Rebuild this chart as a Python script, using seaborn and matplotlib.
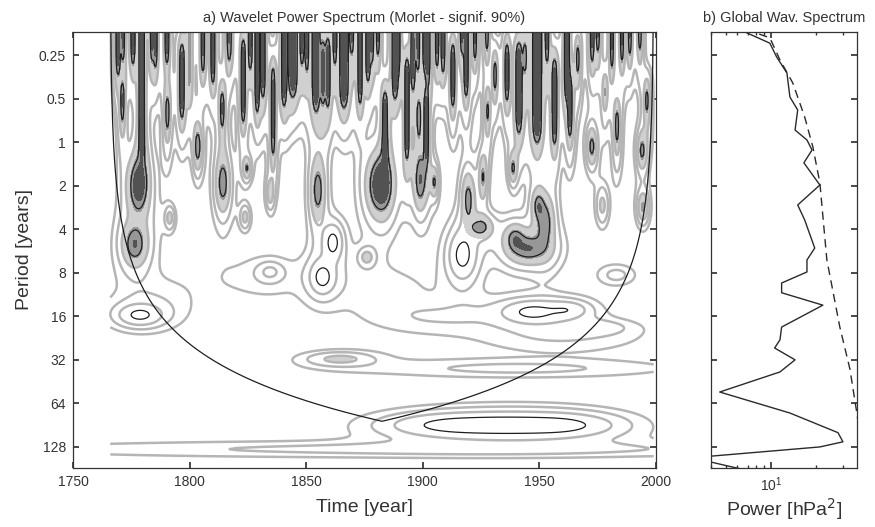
import numpy as np
import pandas as pd
import matplotlib
matplotlib.use("Agg")
import matplotlib.pyplot as plt
import seaborn as sns
from matplotlib.ticker import FixedLocator, FixedFormatter, LogLocator, NullFormatter, NullLocator

# ------------------------------------------------------------------ data
period_ticks = [0.25, 0.5, 1, 2, 4, 8, 16, 32, 64, 128]
period_tick_labels = ["0.25", "0.5", "1", "2", "4", "8", "16", "32", "64", "128"]
year_ticks = [1750, 1800, 1850, 1900, 1950, 2000]
data_start, data_end = 1766.0, 1999.0

# global wavelet spectrum (period [yr], power [hPa^2])
gws_period = [0.16, 0.173, 0.207, 0.259, 0.333, 0.488, 0.600, 0.825, 0.967, 1.134, 1.39, 1.98,
              2.72, 3.45, 5.4, 6.53, 7.9, 9.42, 11.0, 13.4, 19.0, 23.3, 26.5, 32.0, 38.8, 53.4,
              74.6, 102.0, 118.0, 128.0, 152.0, 187.0]
gws_power = [6.0, 6.7, 9.85, 10.96, 12.8, 13.4, 15.1, 14.5, 17.4, 18.8, 16.6, 21.2,
             15.1, 16.8, 19.6, 17.4, 17.4, 11.8, 11.8, 22.2, 11.8, 11.5, 10.6, 14.5, 11.5, 4.57,
             13.4, 28.0, 30.2, 21.2, 3.0, 7.1]
# 90% significance level
sig_period = [0.16, 0.173, 0.19, 0.27, 0.39, 0.67, 1.08, 1.91, 6.5, 19.0, 37.0, 75.0, 180.0]
sig_power = [7.0, 7.6, 9.85, 11.5, 14.0, 16.8, 19.05, 21.2, 23.6, 28.8, 33.6, 37.4, 42.0]

# high-frequency bursts (vertical streaks): year, strength, top/bottom log2(period), width [yr]
streak_year = [1769.3, 1771.4, 1771.2, 1775.7, 1779.5, 1783.9, 1785.4, 1790.3, 1790.5, 1796.7,
               1800.0, 1805.7, 1810.0, 1814.0, 1817.0, 1823.0, 1826.0, 1829.0, 1831.5, 1835.8,
               1840.5, 1844.3, 1848.2, 1850.3, 1854.2, 1857.2, 1859.3, 1862.3, 1866.2, 1869.6,
               1873.1, 1876.5, 1878.2, 1880.8, 1883.8, 1888.1, 1889.4, 1893.2, 1895.8, 1897.9,
               1898.3, 1900.9, 1901.5, 1902.2, 1906.1, 1908.7, 1912.9, 1916.8, 1918.6, 1922.4,
               1927.5, 1927.8, 1931.0, 1936.1, 1941.2, 1943.8, 1949.0, 1953.3, 1956.5, 1961.8,
               1963.1, 1966.5, 1972.6, 1975.1, 1978.1, 1981.1, 1983.3, 1985.4, 1988.8, 1993.1,
               1996.1]
streak_amp = [7, 6, 6, 7, 7.5, 6, 6, 7, 6, 7,
              3.5, 6, 7, 6.5, 6, 7, 6, 7, 7, 6,
              7, 9, 6, 6, 8, 7, 7, 6, 9, 6,
              7, 7, 6, 6, 7, 8, 6, 7, 6, 6,
              5.5, 6, 7, 6, 6, 6, 7, 6, 7, 6,
              6, 5.5, 6, 7, 8, 6, 9, 6, 7, 8,
              6.5, 6, 6, 6, 5.5, 6, 6, 6, 6, 6,
              6]
streak_top = [-3, -3, -1.3, -3, -3, -3, -3, -3, -1.0, -2.2,
              -3, -3, -3, -1.1, -3, -2.3, -3, -3, -3, -1.7,
              -3, -3, -3, -3, -3, -2.2, -2.3, -3, -3, -3,
              -3, -3, -3, -3, -1.1, -3, -3, -1.85, -3, -3,
              -0.9, -3, -1.1, -3, -3, -3, -2.2, -3, -3, -3,
              -3, -0.94, -1.85, -2.2, -2.2, -2.2, -3, -3, -1.85, -3,
              -1.4, -2.2, -3, -3, -1.3, -3, -0.7, -3, -3, -3,
              -1.2]
streak_bottom = [-1.62, -1.93, -0.5, -1.85, 0.3, -1.93, -1.75, -1.85, -0.3, -0.6,
                 -1.0, -1.6, -1.4, -0.4, -1.85, -0.5, -1.7, -0.75, -1.1, 0.3,
                 -0.9, -1.15, -1.85, -1.7, -0.8, -1.0, -0.9, -1.85, -0.9, -2.1,
                 -0.94, -1.47, -1.9, -2.0, 0.4, -1.1, -1.7, 0.3, -1.24, -1.7,
                 -0.2, -1.7, 0.4, -1.4, -1.75, -1.6, -0.86, -2.1, -1.1, -1.9,
                 -2.1, -0.45, -1.2, -1.0, -0.3, -1.7, -0.1, -1.9, 0.0, -1.1,
                 -0.17, -1.6, -1.85, -2.1, -1.0, -1.7, 0.0, -1.85, -2.0, -2.1,
                 -0.7]
streak_width = [0.8, 0.7, 0.7, 0.8, 1.0, 0.7, 0.7, 0.8, 0.8, 0.9,
                1.0, 0.8, 0.8, 0.8, 1.0, 0.8, 0.8, 0.8, 0.8, 0.8,
                0.9, 1.4, 0.7, 0.7, 1.3, 0.8, 0.8, 0.7, 1.4, 0.7,
                0.8, 0.8, 0.7, 0.7, 0.9, 1.0, 0.7, 0.8, 0.8, 0.7,
                0.8, 0.8, 0.8, 0.8, 0.7, 0.8, 0.8, 0.7, 0.8, 0.7,
                0.7, 0.7, 0.7, 0.8, 1.1, 0.7, 1.5, 0.7, 0.9, 0.9,
                0.8, 0.7, 0.8, 0.7, 0.7, 0.7, 0.8, 0.7, 0.7, 0.7,
                0.8]

# localized power features: year, log2(period), strength, time width, octave width, shaded?
blob_year = [1778.0, 1776.5, 1791.5, 1814.3, 1823.8, 1824.6, 1834.5, 1855.0, 1881.8, 1898.8,
             1905.0, 1925.8, 1938.7, 1919.5, 1925.0, 1945.5, 1952.5, 1949.5, 1994.4, 1977.0,
             1803.5, 1972.5, 1994.0, 1876.0, 1864.5, 1939.5,
             1861.5, 1857.0, 1917.0, 1778.7, 1834.5, 1947.0, 1962.0, 1983.0, 1975.0, 1940.0,
             1912.0, 1937.0, 1960.0, 1900.0, 1830.0, 1880.0, 1785.0, 1905.0, 1960.0]
blob_logp = [1.0, 2.35, 1.74, 0.95, 1.72, 0.6, 1.17, 1.1, 0.98, 0.9,
             0.92, 0.8, 0.6, 1.3, 1.95, 2.45, 1.85, 1.45, 1.49, 1.45,
             0.1, 0.1, 0.2, 2.64, 4.98, 2.2,
             2.3, 3.1, 2.6, 3.97, 2.98, 3.9, 3.85, 3.05, 4.25, 5.2,
             6.5, 6.5, 6.5, 7.05, 3.1, 3.3, 3.6, 4.0, 4.5]
blob_amp = [9.5, 7.5, 3.2, 7.0, 3.2, 5.5, 3.5, 7.0, 12.0, 7.0,
            5.5, 5.5, 5.5, 6.5, 6.0, 7.0, 6.5, 5.5, 5.5, 3.0,
            7.5, 6.5, 6.0, 3.0, 3.0, 5.5,
            7.0, 7.0, 7.0, 6.4, 2.5, 6.5, 4.0, 1.5, 1.4, 1.4,
            6.0, 6.5, 5.5, 1.5, 0.7, 0.8, 0.8, 1.1, 1.0]
blob_tw = [2.6, 3.0, 1.2, 1.8, 1.2, 1.0, 1.0, 1.8, 3.0, 1.6,
           0.9, 1.0, 1.0, 1.6, 2.8, 5.0, 2.2, 1.5, 1.3, 1.5,
           1.0, 1.2, 1.2, 2.0, 8.0, 2.5,
           2.2, 2.8, 3.2, 5.0, 3.0, 7.0, 5.0, 5.0, 9.0, 40.0,
           14.0, 14.0, 12.0, 110.0, 15.0, 15.0, 12.0, 18.0, 22.0]
blob_sw = [0.38, 0.28, 0.15, 0.38, 0.15, 0.15, 0.2, 0.42, 0.38, 0.38,
           0.2, 0.3, 0.2, 0.35, 0.15, 0.2, 0.35, 0.2, 0.2, 0.25,
           0.3, 0.25, 0.25, 0.12, 0.09, 0.18,
           0.22, 0.2, 0.3, 0.13, 0.12, 0.14, 0.11, 0.15, 0.11, 0.13,
           0.14, 0.14, 0.14, 0.12, 0.35, 0.35, 0.4, 0.25, 0.22]
blob_shaded = [1, 1, 1, 1, 1, 1, 1, 1, 1, 1,
               1, 1, 1, 1, 1, 1, 1, 1, 1, 1,
               1, 1, 1, 1, 1, 1,
               0, 0, 0, 0, 0, 0, 0, 0, 0, 0,
               0, 0, 0, 0, 0, 0, 0, 0, 0]

# ------------------------------------------------------------------ power field
t = np.arange(data_start, data_end + 1e-6, 0.2)
s = np.arange(-2.65, 7.6, 0.025)


def logistic(x):
    return 1.0 / (1.0 + np.exp(-x))


cores = np.zeros((s.size, t.size))
halos = np.zeros((s.size, t.size))
for yr, a, st, sb, w in zip(streak_year, streak_amp, streak_top, streak_bottom, streak_width):
    core = np.exp(-0.5 * ((t - yr) / (0.85 * w)) ** 2)
    halo = np.exp(-0.5 * ((t - yr) / (2.1 * w)) ** 2)
    vcore = logistic((s - st) / 0.12) * logistic((sb - s) / 0.15)
    vhalo = logistic((s - st + 0.4) / 0.15) * logistic((sb + 0.6 - s) / 0.3)
    cores += a * np.outer(vcore, core)
    halos += 0.45 * a * np.outer(vhalo, halo)
streak_field = cores + 3.3 * np.tanh(halos / 3.3)

z_all = streak_field.copy()
z_shade = streak_field.copy()
for yr, lp, a, tw, sw, sh in zip(blob_year, blob_logp, blob_amp, blob_tw, blob_sw, blob_shaded):
    ds = (s - lp) / sw
    dt = (t - yr) / tw
    comp = a * (0.74 * np.outer(np.exp(-0.5 * ds ** 2), np.exp(-0.5 * dt ** 2))
                + 0.26 * np.outer(np.exp(-0.5 * (ds / 2.0) ** 2), np.exp(-0.5 * (dt / 2.0) ** 2)))
    z_all += comp
    if sh:
        z_shade += comp

periods = 2.0 ** s
# cone of influence (Morlet: e-folding distance * fourier factor)
t_coi = t[1:-1]
coi = 1.033 / np.sqrt(2.0) * np.minimum(t_coi - data_start, data_end - t_coi)
coi_df = pd.DataFrame({"year": t_coi, "period": coi})

gws_df = pd.DataFrame({"power": gws_power, "period": gws_period})
sig_df = pd.DataFrame({"power": sig_power, "period": sig_period})

# ------------------------------------------------------------------ plotting
sns.set_theme(style="ticks", rc={
    "xtick.direction": "in", "ytick.direction": "in",
    "xtick.major.size": 4, "ytick.major.size": 4,
    "xtick.minor.size": 2.5, "ytick.minor.size": 2.5,
    "axes.edgecolor": "#333333", "axes.linewidth": 0.9,
    "xtick.color": "#333333", "ytick.color": "#333333",
    "text.color": "#333333", "axes.labelcolor": "#333333",
})
plt.rcParams["font.family"] = ["Liberation Sans", "DejaVu Sans"]

fig = plt.figure(figsize=(8.75, 5.27), dpi=100)
ax = fig.add_axes([0.0834, 0.1120, 0.6663, 0.8273])
ax2 = fig.add_axes([0.8126, 0.1120, 0.1669, 0.8273])

ylo, yhi = 0.1733, 178.9

ax.set_yscale("log", base=2)
ax.contourf(t, periods, z_shade, levels=[2.5, 5.0, 7.8, 1e4],
            colors=["#d0d0d0", "#979797", "#525252"])
ax.contour(t, periods, z_all, levels=[0.6, 1.2, 2.5], colors="#b5b5b5", linewidths=1.8)
ax.contour(t, periods, z_all, levels=[5.6], colors="#1e1e1e", linewidths=0.9)
sns.lineplot(data=coi_df, x="year", y="period", ax=ax, color="#1e1e1e", linewidth=0.9,
             sort=False, estimator=None)

ax.set_xlim(1750, 2000)
ax.set_ylim(yhi, ylo)
ax.yaxis.set_major_locator(FixedLocator(period_ticks))
ax.yaxis.set_major_formatter(FixedFormatter(period_tick_labels))
ax.yaxis.set_minor_locator(NullLocator())
ax.set_xticks(year_ticks)
ax.tick_params(axis="both", which="both", top=True, right=True, labelsize=10, pad=5)
ax.set_xlabel("Time [year]", fontsize=14, labelpad=7)
ax.set_ylabel("Period [years]", fontsize=14, labelpad=4)
ax.set_title("a) Wavelet Power Spectrum (Morlet - signif. 90%)", fontsize=10.5, pad=7)

# right panel: global wavelet spectrum
sns.lineplot(data=gws_df, x="power", y="period", ax=ax2, color="#2a2a2a", linewidth=1.0,
             sort=False, estimator=None)
sns.lineplot(data=sig_df, x="power", y="period", ax=ax2, color="#2a2a2a", linewidth=1.0,
             sort=False, estimator=None, dashes=False, linestyle=(0, (6, 4)))
ax2.set_xscale("log")
ax2.set_yscale("log", base=2)
ax2.set_xlim(4.0, 37.5)
ax2.set_ylim(yhi, ylo)
ax2.yaxis.set_major_locator(FixedLocator(period_ticks))
ax2.yaxis.set_major_formatter(NullFormatter())
ax2.yaxis.set_minor_locator(NullLocator())
ax2.xaxis.set_major_locator(FixedLocator([10]))
ax2.xaxis.set_minor_locator(LogLocator(base=10, subs=np.arange(2, 10)))
ax2.xaxis.set_minor_formatter(NullFormatter())
ax2.tick_params(axis="both", which="both", top=True, right=True, labelsize=10, pad=5)
ax2.set_ylabel("")
ax2.set_xlabel("Power [hPa$^2$]", fontsize=14, labelpad=2)
ax2.set_title("b) Global Wav. Spectrum", fontsize=10.5, pad=7)

fig.savefig("out.png", dpi=100)
